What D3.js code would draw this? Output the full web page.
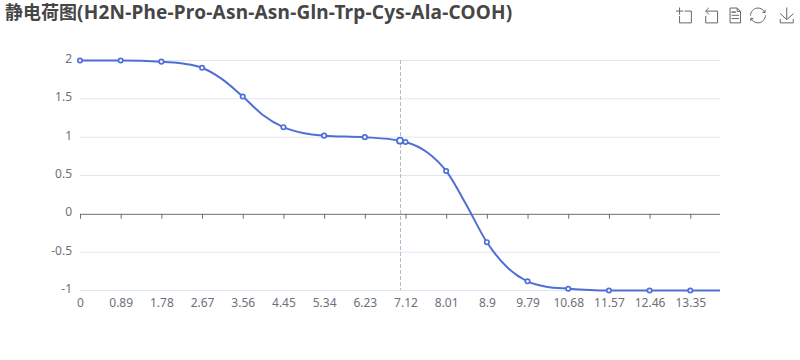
<!DOCTYPE html>
<html><head><meta charset="utf-8">
<style>html,body{margin:0;padding:0;background:#fff}svg{display:block}text{font-family:"Noto Sans","Noto Sans CJK SC",sans-serif}</style>
<script src="https://cdn.jsdelivr.net/npm/d3@7/dist/d3.min.js"></script></head><body>
<svg id="c" width="800" height="360"></svg>
<script>
const titleCjk = "静电荷图";
const titleLatin = "(H2N-Phe-Pro-Asn-Asn-Gln-Trp-Cys-Ala-COOH)";
const tickLabels = [0,0.89,1.78,2.67,3.56,4.45,5.34,6.23,7.12,8.01,8.9,9.79,10.68,11.57,12.46,13.35];
const markerValues = [2,2,1.985,1.905,1.53,1.13,1.02,1,0.937,0.559,-0.37,-0.88,-0.977,-1,-1,-1];
const curvePh = [0,0.89,1.78,2.25,2.67,3.1,3.56,4,4.45,4.9,5.34,6.23,7,7.12,7.6,8.01,8.45,8.9,9.35,9.79,10.2,10.68,11.57,12.46,13.35,14];
const curveCharge = [2,2,1.985,1.96,1.905,1.76,1.53,1.29,1.13,1.05,1.02,1,0.954,0.937,0.8,0.559,0.12,-0.37,-0.7,-0.88,-0.95,-0.977,-1,-1,-1,-1];
const yTicks = [2,1.5,1,0.5,0,-0.5,-1];
const hoverPh = 7, hoverCharge = 0.954;

const svg = d3.select("#c");
const x = d3.scaleLinear().domain([0,14]).range([80,720]);
const y = d3.scaleLinear().domain([-1,2]).range([290.5,60.5]);
const axisC = "#6E7079", gridC = "#E0E6F1", lineC = "#4F6FD6";

const title = svg.append("text").attr("x",5).attr("y",19).attr("font-size",18).attr("font-weight",700).attr("fill","#464646");
title.append("tspan").style("font-family",'"Noto Sans CJK SC",sans-serif').text(titleCjk);
title.append("tspan").style("font-family",'"Noto Sans",sans-serif').attr("font-size",19).attr("letter-spacing",0.21).text(titleLatin);

svg.append("g").selectAll("line").data(yTicks.filter(d=>d!==0)).join("line")
  .attr("x1",80).attr("x2",720).attr("y1",d=>y(d)).attr("y2",d=>y(d)).attr("stroke",gridC);
svg.append("g").selectAll("text").data(yTicks).join("text")
  .attr("x",72).attr("y",d=>y(d)-2).attr("dominant-baseline","central").attr("text-anchor","end")
  .attr("font-size",12).attr("fill",axisC).text(d=>d);

const xAxis = d3.axisBottom(x).tickValues(tickLabels).tickSize(5).tickPadding(80).tickFormat(d=>d);
const gx = svg.append("g").attr("transform",`translate(0,${y(0)})`).call(xAxis);
gx.select(".domain").attr("stroke",axisC).attr("d","M80,0.5H720");
gx.selectAll(".tick line").attr("stroke",axisC);
gx.selectAll(".tick text").attr("fill",axisC).attr("font-size",12).attr("font-family",'"Noto Sans","Noto Sans CJK SC",sans-serif');

svg.append("line").attr("x1",x(hoverPh)+0.5).attr("x2",x(hoverPh)+0.5).attr("y1",60).attr("y2",290)
  .attr("stroke","#B6B9C8").attr("stroke-dasharray","4 2");

const line = d3.line().x((d,i)=>x(curvePh[i])).y(d=>y(d)).curve(d3.curveMonotoneX);
svg.append("path").attr("d",line(curveCharge)).attr("fill","none").attr("stroke",lineC).attr("stroke-width",2);

svg.append("g").selectAll("circle").data(tickLabels).join("circle")
  .attr("cx",d=>x(d)).attr("cy",(d,i)=>y(markerValues[i])).attr("r",2.2).attr("fill","#fff").attr("stroke",lineC).attr("stroke-width",1.7);
svg.append("circle").attr("cx",x(hoverPh)).attr("cy",y(hoverCharge)).attr("r",3).attr("fill","#fff").attr("stroke",lineC).attr("stroke-width",1.8);

const icons = [
 [676,"M0,13.5h26.9 M13.5,26.9V0 M32.1,13.5H58V58H13.5 V32.1"],
 [703,"M22,1.4L9.9,13.5l12.3,12.3 M10.3,13.5H54.9v44.6 H10.3v-26"],
 [727,"M17.5,17.3H33 M17.5,17.3H33 M45.4,29.5h-28 M11.5,2v56H51V14.8L38.4,2H11.5z M38.4,2.2v12.7H51 M45.4,41.7h-28"],
 [750,"M3.8,33.4 M47,18.9h9.8V8.7 M56.3,20.1 C52.1,9,40.5,0.6,26.8,2.1C12.6,3.7,1.6,16.2,2.1,30.6 M13,41.1H3.1v10.2 M3.7,39.9c4.2,11.1,15.8,19.5,29.5,18 c14.2-1.6,25.2-14.1,24.7-28.5"],
 [779,"M4.7,22.9L29.3,45.5L54.7,23.4M4.6,43.6L4.6,58L53.8,58L53.8,43.6M29.2,45.1L29.2,0"]
];
svg.append("g").selectAll("path").data(icons).join("path")
  .attr("d",d=>d[1]).attr("transform",d=>`translate(${d[0]},7.5) scale(0.265)`)
  .attr("fill","none").attr("stroke","#666").attr("stroke-width",1/0.265);
</script></body></html>
